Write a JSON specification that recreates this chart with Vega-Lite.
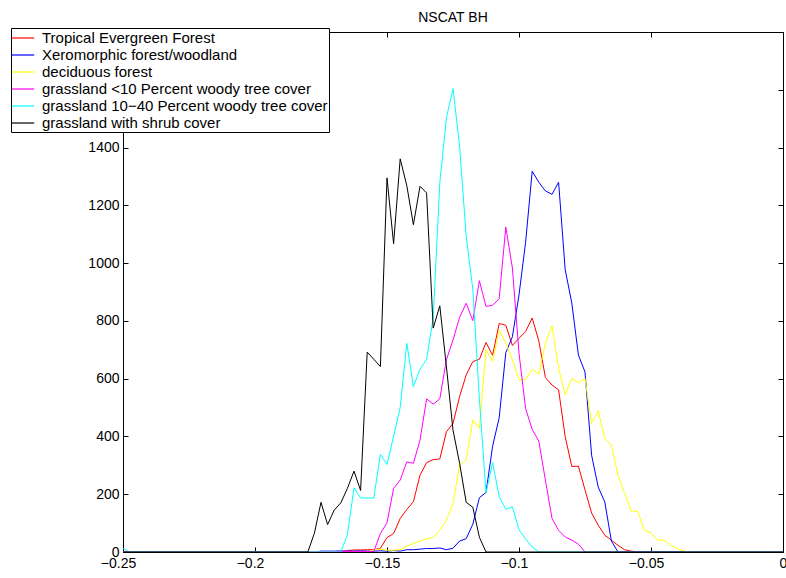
{
  "$schema": "https://vega.github.io/schema/vega-lite/v6.json",
  "width": 660,
  "height": 520,
  "autosize": {"type": "none"},
  "padding": {"left": 123, "top": 32, "right": 3, "bottom": 26},
  "background": "white",
  "title": {"text": "NSCAT BH", "fontSize": 14, "font": "Liberation Sans", "fontWeight": "normal", "color": "black", "offset": 3},
  "config": {
    "view": {"stroke": "black", "strokeWidth": 1},
    "font": "Liberation Sans",
    "axis": {"domain": false, "grid": false, "tickColor": "black", "tickSize": -5, "labelFont": "Liberation Sans", "labelFontSize": 14, "labelColor": "black", "title": null, "labelPadding": 9, "labelFlush": false}
  },
  "data": {"values": [
    {"s": "Tropical Evergreen Forest", "x": -0.25, "y": 0},
    {"s": "Tropical Evergreen Forest", "x": -0.1675, "y": 0},
    {"s": "Tropical Evergreen Forest", "x": -0.165, "y": 5},
    {"s": "Tropical Evergreen Forest", "x": -0.1625, "y": 7},
    {"s": "Tropical Evergreen Forest", "x": -0.16, "y": 7},
    {"s": "Tropical Evergreen Forest", "x": -0.1575, "y": 8},
    {"s": "Tropical Evergreen Forest", "x": -0.155, "y": 8},
    {"s": "Tropical Evergreen Forest", "x": -0.1525, "y": 13},
    {"s": "Tropical Evergreen Forest", "x": -0.15, "y": 50},
    {"s": "Tropical Evergreen Forest", "x": -0.1475, "y": 64},
    {"s": "Tropical Evergreen Forest", "x": -0.145, "y": 116},
    {"s": "Tropical Evergreen Forest", "x": -0.1425, "y": 147},
    {"s": "Tropical Evergreen Forest", "x": -0.14, "y": 174},
    {"s": "Tropical Evergreen Forest", "x": -0.1375, "y": 266},
    {"s": "Tropical Evergreen Forest", "x": -0.135, "y": 309},
    {"s": "Tropical Evergreen Forest", "x": -0.1325, "y": 320},
    {"s": "Tropical Evergreen Forest", "x": -0.13, "y": 322},
    {"s": "Tropical Evergreen Forest", "x": -0.1275, "y": 416},
    {"s": "Tropical Evergreen Forest", "x": -0.125, "y": 445},
    {"s": "Tropical Evergreen Forest", "x": -0.1225, "y": 538},
    {"s": "Tropical Evergreen Forest", "x": -0.12, "y": 613},
    {"s": "Tropical Evergreen Forest", "x": -0.1175, "y": 659},
    {"s": "Tropical Evergreen Forest", "x": -0.115, "y": 667},
    {"s": "Tropical Evergreen Forest", "x": -0.1125, "y": 725},
    {"s": "Tropical Evergreen Forest", "x": -0.11, "y": 681},
    {"s": "Tropical Evergreen Forest", "x": -0.1075, "y": 791},
    {"s": "Tropical Evergreen Forest", "x": -0.105, "y": 785},
    {"s": "Tropical Evergreen Forest", "x": -0.1025, "y": 715},
    {"s": "Tropical Evergreen Forest", "x": -0.1, "y": 740},
    {"s": "Tropical Evergreen Forest", "x": -0.0975, "y": 763},
    {"s": "Tropical Evergreen Forest", "x": -0.095, "y": 810},
    {"s": "Tropical Evergreen Forest", "x": -0.0925, "y": 731},
    {"s": "Tropical Evergreen Forest", "x": -0.09, "y": 604},
    {"s": "Tropical Evergreen Forest", "x": -0.0875, "y": 578},
    {"s": "Tropical Evergreen Forest", "x": -0.085, "y": 561},
    {"s": "Tropical Evergreen Forest", "x": -0.0825, "y": 399},
    {"s": "Tropical Evergreen Forest", "x": -0.08, "y": 296},
    {"s": "Tropical Evergreen Forest", "x": -0.0775, "y": 297},
    {"s": "Tropical Evergreen Forest", "x": -0.075, "y": 215},
    {"s": "Tropical Evergreen Forest", "x": -0.0725, "y": 135},
    {"s": "Tropical Evergreen Forest", "x": -0.07, "y": 93},
    {"s": "Tropical Evergreen Forest", "x": -0.0675, "y": 58},
    {"s": "Tropical Evergreen Forest", "x": -0.065, "y": 41},
    {"s": "Tropical Evergreen Forest", "x": -0.0625, "y": 23},
    {"s": "Tropical Evergreen Forest", "x": -0.06, "y": 8},
    {"s": "Tropical Evergreen Forest", "x": -0.0575, "y": 3},
    {"s": "Tropical Evergreen Forest", "x": -0.055, "y": 0},
    {"s": "Tropical Evergreen Forest", "x": 0, "y": 0},

    {"s": "Xeromorphic forest/woodland", "x": -0.25, "y": 0},
    {"s": "Xeromorphic forest/woodland", "x": -0.1775, "y": 0},
    {"s": "Xeromorphic forest/woodland", "x": -0.175, "y": 3},
    {"s": "Xeromorphic forest/woodland", "x": -0.1725, "y": 3},
    {"s": "Xeromorphic forest/woodland", "x": -0.17, "y": 3},
    {"s": "Xeromorphic forest/woodland", "x": -0.1675, "y": 4},
    {"s": "Xeromorphic forest/woodland", "x": -0.165, "y": 3},
    {"s": "Xeromorphic forest/woodland", "x": -0.1625, "y": 3},
    {"s": "Xeromorphic forest/woodland", "x": -0.16, "y": 4},
    {"s": "Xeromorphic forest/woodland", "x": -0.1575, "y": 3},
    {"s": "Xeromorphic forest/woodland", "x": -0.155, "y": 3},
    {"s": "Xeromorphic forest/woodland", "x": -0.1525, "y": 4},
    {"s": "Xeromorphic forest/woodland", "x": -0.15, "y": 3},
    {"s": "Xeromorphic forest/woodland", "x": -0.1475, "y": 5},
    {"s": "Xeromorphic forest/woodland", "x": -0.145, "y": 3},
    {"s": "Xeromorphic forest/woodland", "x": -0.1425, "y": 8},
    {"s": "Xeromorphic forest/woodland", "x": -0.14, "y": 8},
    {"s": "Xeromorphic forest/woodland", "x": -0.1375, "y": 10},
    {"s": "Xeromorphic forest/woodland", "x": -0.135, "y": 12},
    {"s": "Xeromorphic forest/woodland", "x": -0.1325, "y": 12},
    {"s": "Xeromorphic forest/woodland", "x": -0.13, "y": 14},
    {"s": "Xeromorphic forest/woodland", "x": -0.1275, "y": 8},
    {"s": "Xeromorphic forest/woodland", "x": -0.125, "y": 13},
    {"s": "Xeromorphic forest/woodland", "x": -0.1225, "y": 38},
    {"s": "Xeromorphic forest/woodland", "x": -0.12, "y": 46},
    {"s": "Xeromorphic forest/woodland", "x": -0.1175, "y": 96},
    {"s": "Xeromorphic forest/woodland", "x": -0.115, "y": 188},
    {"s": "Xeromorphic forest/woodland", "x": -0.1125, "y": 206},
    {"s": "Xeromorphic forest/woodland", "x": -0.11, "y": 366},
    {"s": "Xeromorphic forest/woodland", "x": -0.1075, "y": 465},
    {"s": "Xeromorphic forest/woodland", "x": -0.105, "y": 690},
    {"s": "Xeromorphic forest/woodland", "x": -0.1025, "y": 745},
    {"s": "Xeromorphic forest/woodland", "x": -0.1, "y": 890},
    {"s": "Xeromorphic forest/woodland", "x": -0.0975, "y": 1072},
    {"s": "Xeromorphic forest/woodland", "x": -0.095, "y": 1318},
    {"s": "Xeromorphic forest/woodland", "x": -0.0925, "y": 1280},
    {"s": "Xeromorphic forest/woodland", "x": -0.09, "y": 1250},
    {"s": "Xeromorphic forest/woodland", "x": -0.0875, "y": 1238},
    {"s": "Xeromorphic forest/woodland", "x": -0.085, "y": 1280},
    {"s": "Xeromorphic forest/woodland", "x": -0.0825, "y": 977},
    {"s": "Xeromorphic forest/woodland", "x": -0.08, "y": 862},
    {"s": "Xeromorphic forest/woodland", "x": -0.0775, "y": 682},
    {"s": "Xeromorphic forest/woodland", "x": -0.075, "y": 623},
    {"s": "Xeromorphic forest/woodland", "x": -0.0725, "y": 335},
    {"s": "Xeromorphic forest/woodland", "x": -0.07, "y": 225},
    {"s": "Xeromorphic forest/woodland", "x": -0.0675, "y": 173},
    {"s": "Xeromorphic forest/woodland", "x": -0.065, "y": 38},
    {"s": "Xeromorphic forest/woodland", "x": -0.0625, "y": 0},
    {"s": "Xeromorphic forest/woodland", "x": 0, "y": 0},

    {"s": "deciduous forest", "x": -0.25, "y": 0},
    {"s": "deciduous forest", "x": -0.1575, "y": 0},
    {"s": "deciduous forest", "x": -0.155, "y": 8},
    {"s": "deciduous forest", "x": -0.1525, "y": 10},
    {"s": "deciduous forest", "x": -0.15, "y": 6},
    {"s": "deciduous forest", "x": -0.1475, "y": 6},
    {"s": "deciduous forest", "x": -0.145, "y": 8},
    {"s": "deciduous forest", "x": -0.1425, "y": 20},
    {"s": "deciduous forest", "x": -0.14, "y": 29},
    {"s": "deciduous forest", "x": -0.1375, "y": 38},
    {"s": "deciduous forest", "x": -0.135, "y": 46},
    {"s": "deciduous forest", "x": -0.1325, "y": 50},
    {"s": "deciduous forest", "x": -0.13, "y": 75},
    {"s": "deciduous forest", "x": -0.1275, "y": 110},
    {"s": "deciduous forest", "x": -0.125, "y": 168},
    {"s": "deciduous forest", "x": -0.1225, "y": 301},
    {"s": "deciduous forest", "x": -0.12, "y": 318},
    {"s": "deciduous forest", "x": -0.1175, "y": 457},
    {"s": "deciduous forest", "x": -0.115, "y": 428},
    {"s": "deciduous forest", "x": -0.1125, "y": 700},
    {"s": "deciduous forest", "x": -0.11, "y": 659},
    {"s": "deciduous forest", "x": -0.1075, "y": 769},
    {"s": "deciduous forest", "x": -0.105, "y": 723},
    {"s": "deciduous forest", "x": -0.1025, "y": 665},
    {"s": "deciduous forest", "x": -0.1, "y": 596},
    {"s": "deciduous forest", "x": -0.0975, "y": 597},
    {"s": "deciduous forest", "x": -0.095, "y": 633},
    {"s": "deciduous forest", "x": -0.0925, "y": 616},
    {"s": "deciduous forest", "x": -0.09, "y": 723},
    {"s": "deciduous forest", "x": -0.0875, "y": 784},
    {"s": "deciduous forest", "x": -0.085, "y": 636},
    {"s": "deciduous forest", "x": -0.0825, "y": 544},
    {"s": "deciduous forest", "x": -0.08, "y": 601},
    {"s": "deciduous forest", "x": -0.0775, "y": 586},
    {"s": "deciduous forest", "x": -0.075, "y": 601},
    {"s": "deciduous forest", "x": -0.0725, "y": 445},
    {"s": "deciduous forest", "x": -0.07, "y": 489},
    {"s": "deciduous forest", "x": -0.0675, "y": 393},
    {"s": "deciduous forest", "x": -0.065, "y": 370},
    {"s": "deciduous forest", "x": -0.0625, "y": 266},
    {"s": "deciduous forest", "x": -0.06, "y": 203},
    {"s": "deciduous forest", "x": -0.0575, "y": 142},
    {"s": "deciduous forest", "x": -0.055, "y": 141},
    {"s": "deciduous forest", "x": -0.0525, "y": 75},
    {"s": "deciduous forest", "x": -0.05, "y": 67},
    {"s": "deciduous forest", "x": -0.0475, "y": 41},
    {"s": "deciduous forest", "x": -0.045, "y": 41},
    {"s": "deciduous forest", "x": -0.0425, "y": 23},
    {"s": "deciduous forest", "x": -0.04, "y": 12},
    {"s": "deciduous forest", "x": -0.0375, "y": 3},
    {"s": "deciduous forest", "x": -0.035, "y": 0},
    {"s": "deciduous forest", "x": 0, "y": 0},

    {"s": "grassland <10 Percent woody tree cover", "x": -0.25, "y": 0},
    {"s": "grassland <10 Percent woody tree cover", "x": -0.17, "y": 0},
    {"s": "grassland <10 Percent woody tree cover", "x": -0.1675, "y": 2},
    {"s": "grassland <10 Percent woody tree cover", "x": -0.165, "y": 2},
    {"s": "grassland <10 Percent woody tree cover", "x": -0.1625, "y": 2},
    {"s": "grassland <10 Percent woody tree cover", "x": -0.16, "y": 2},
    {"s": "grassland <10 Percent woody tree cover", "x": -0.1575, "y": 2},
    {"s": "grassland <10 Percent woody tree cover", "x": -0.155, "y": 2},
    {"s": "grassland <10 Percent woody tree cover", "x": -0.1525, "y": 64},
    {"s": "grassland <10 Percent woody tree cover", "x": -0.15, "y": 101},
    {"s": "grassland <10 Percent woody tree cover", "x": -0.1475, "y": 220},
    {"s": "grassland <10 Percent woody tree cover", "x": -0.145, "y": 249},
    {"s": "grassland <10 Percent woody tree cover", "x": -0.1425, "y": 312},
    {"s": "grassland <10 Percent woody tree cover", "x": -0.14, "y": 307},
    {"s": "grassland <10 Percent woody tree cover", "x": -0.1375, "y": 387},
    {"s": "grassland <10 Percent woody tree cover", "x": -0.135, "y": 530},
    {"s": "grassland <10 Percent woody tree cover", "x": -0.1325, "y": 512},
    {"s": "grassland <10 Percent woody tree cover", "x": -0.13, "y": 530},
    {"s": "grassland <10 Percent woody tree cover", "x": -0.1275, "y": 665},
    {"s": "grassland <10 Percent woody tree cover", "x": -0.125, "y": 734},
    {"s": "grassland <10 Percent woody tree cover", "x": -0.1225, "y": 812},
    {"s": "grassland <10 Percent woody tree cover", "x": -0.12, "y": 861},
    {"s": "grassland <10 Percent woody tree cover", "x": -0.1175, "y": 801},
    {"s": "grassland <10 Percent woody tree cover", "x": -0.115, "y": 939},
    {"s": "grassland <10 Percent woody tree cover", "x": -0.1125, "y": 850},
    {"s": "grassland <10 Percent woody tree cover", "x": -0.11, "y": 854},
    {"s": "grassland <10 Percent woody tree cover", "x": -0.1075, "y": 877},
    {"s": "grassland <10 Percent woody tree cover", "x": -0.105, "y": 1125},
    {"s": "grassland <10 Percent woody tree cover", "x": -0.1025, "y": 983},
    {"s": "grassland <10 Percent woody tree cover", "x": -0.1, "y": 688},
    {"s": "grassland <10 Percent woody tree cover", "x": -0.0975, "y": 497},
    {"s": "grassland <10 Percent woody tree cover", "x": -0.095, "y": 424},
    {"s": "grassland <10 Percent woody tree cover", "x": -0.0925, "y": 384},
    {"s": "grassland <10 Percent woody tree cover", "x": -0.09, "y": 249},
    {"s": "grassland <10 Percent woody tree cover", "x": -0.0875, "y": 116},
    {"s": "grassland <10 Percent woody tree cover", "x": -0.085, "y": 75},
    {"s": "grassland <10 Percent woody tree cover", "x": -0.0825, "y": 52},
    {"s": "grassland <10 Percent woody tree cover", "x": -0.08, "y": 41},
    {"s": "grassland <10 Percent woody tree cover", "x": -0.0775, "y": 27},
    {"s": "grassland <10 Percent woody tree cover", "x": -0.075, "y": 0},
    {"s": "grassland <10 Percent woody tree cover", "x": 0, "y": 0},

    {"s": "grassland 10−40 Percent woody tree cover", "x": -0.25, "y": 12},
    {"s": "grassland 10−40 Percent woody tree cover", "x": -0.2475, "y": 0},
    {"s": "grassland 10−40 Percent woody tree cover", "x": -0.1675, "y": 0},
    {"s": "grassland 10−40 Percent woody tree cover", "x": -0.165, "y": 60},
    {"s": "grassland 10−40 Percent woody tree cover", "x": -0.1625, "y": 222},
    {"s": "grassland 10−40 Percent woody tree cover", "x": -0.16, "y": 187},
    {"s": "grassland 10−40 Percent woody tree cover", "x": -0.1575, "y": 187},
    {"s": "grassland 10−40 Percent woody tree cover", "x": -0.155, "y": 187},
    {"s": "grassland 10−40 Percent woody tree cover", "x": -0.1525, "y": 338},
    {"s": "grassland 10−40 Percent woody tree cover", "x": -0.15, "y": 303},
    {"s": "grassland 10−40 Percent woody tree cover", "x": -0.1475, "y": 401},
    {"s": "grassland 10−40 Percent woody tree cover", "x": -0.145, "y": 500},
    {"s": "grassland 10−40 Percent woody tree cover", "x": -0.1425, "y": 722},
    {"s": "grassland 10−40 Percent woody tree cover", "x": -0.14, "y": 572},
    {"s": "grassland 10−40 Percent woody tree cover", "x": -0.1375, "y": 633},
    {"s": "grassland 10−40 Percent woody tree cover", "x": -0.135, "y": 667},
    {"s": "grassland 10−40 Percent woody tree cover", "x": -0.1325, "y": 810},
    {"s": "grassland 10−40 Percent woody tree cover", "x": -0.13, "y": 1278},
    {"s": "grassland 10−40 Percent woody tree cover", "x": -0.1275, "y": 1503},
    {"s": "grassland 10−40 Percent woody tree cover", "x": -0.125, "y": 1604},
    {"s": "grassland 10−40 Percent woody tree cover", "x": -0.1225, "y": 1405},
    {"s": "grassland 10−40 Percent woody tree cover", "x": -0.12, "y": 1093},
    {"s": "grassland 10−40 Percent woody tree cover", "x": -0.1175, "y": 910},
    {"s": "grassland 10−40 Percent woody tree cover", "x": -0.115, "y": 530},
    {"s": "grassland 10−40 Percent woody tree cover", "x": -0.1125, "y": 205},
    {"s": "grassland 10−40 Percent woody tree cover", "x": -0.11, "y": 310},
    {"s": "grassland 10−40 Percent woody tree cover", "x": -0.1075, "y": 191},
    {"s": "grassland 10−40 Percent woody tree cover", "x": -0.105, "y": 148},
    {"s": "grassland 10−40 Percent woody tree cover", "x": -0.1025, "y": 156},
    {"s": "grassland 10−40 Percent woody tree cover", "x": -0.1, "y": 77},
    {"s": "grassland 10−40 Percent woody tree cover", "x": -0.0975, "y": 45},
    {"s": "grassland 10−40 Percent woody tree cover", "x": -0.095, "y": 17},
    {"s": "grassland 10−40 Percent woody tree cover", "x": -0.0925, "y": 0},
    {"s": "grassland 10−40 Percent woody tree cover", "x": 0, "y": 0},

    {"s": "grassland with shrub cover", "x": -0.25, "y": 0},
    {"s": "grassland with shrub cover", "x": -0.18, "y": 0},
    {"s": "grassland with shrub cover", "x": -0.1775, "y": 65},
    {"s": "grassland with shrub cover", "x": -0.175, "y": 172},
    {"s": "grassland with shrub cover", "x": -0.1725, "y": 95},
    {"s": "grassland with shrub cover", "x": -0.17, "y": 145},
    {"s": "grassland with shrub cover", "x": -0.1675, "y": 170},
    {"s": "grassland with shrub cover", "x": -0.165, "y": 220},
    {"s": "grassland with shrub cover", "x": -0.1625, "y": 280},
    {"s": "grassland with shrub cover", "x": -0.16, "y": 213},
    {"s": "grassland with shrub cover", "x": -0.1575, "y": 692},
    {"s": "grassland with shrub cover", "x": -0.155, "y": 667},
    {"s": "grassland with shrub cover", "x": -0.1525, "y": 642},
    {"s": "grassland with shrub cover", "x": -0.15, "y": 1295},
    {"s": "grassland with shrub cover", "x": -0.1475, "y": 1067},
    {"s": "grassland with shrub cover", "x": -0.145, "y": 1361},
    {"s": "grassland with shrub cover", "x": -0.1425, "y": 1268},
    {"s": "grassland with shrub cover", "x": -0.14, "y": 1133},
    {"s": "grassland with shrub cover", "x": -0.1375, "y": 1266},
    {"s": "grassland with shrub cover", "x": -0.135, "y": 1243},
    {"s": "grassland with shrub cover", "x": -0.1325, "y": 775},
    {"s": "grassland with shrub cover", "x": -0.13, "y": 852},
    {"s": "grassland with shrub cover", "x": -0.1275, "y": 642},
    {"s": "grassland with shrub cover", "x": -0.125, "y": 422},
    {"s": "grassland with shrub cover", "x": -0.1225, "y": 307},
    {"s": "grassland with shrub cover", "x": -0.12, "y": 172},
    {"s": "grassland with shrub cover", "x": -0.1175, "y": 155},
    {"s": "grassland with shrub cover", "x": -0.115, "y": 51},
    {"s": "grassland with shrub cover", "x": -0.1125, "y": 0},
    {"s": "grassland with shrub cover", "x": 0, "y": 0}
  ]},
  "layer": [
    {
      "mark": {"type": "line", "strokeWidth": 1, "clip": true},
      "encoding": {
        "x": {"field": "x", "type": "quantitative", "scale": {"domain": [-0.25, 0], "nice": false, "zero": false},
              "axis": {"orient": "bottom", "values": [-0.25, -0.2, -0.15, -0.1, -0.05, 0], "format": "~g",
                       "labelOffset": {"condition": {"test": "datum.value < 0", "value": -5}, "value": 0}}},
        "y": {"field": "y", "type": "quantitative", "scale": {"domain": [0, 1800], "nice": false},
              "axis": {"orient": "left", "values": [0, 200, 400, 600, 800, 1000, 1200, 1400, 1600, 1800], "format": "d", "labelExpr": "datum.value > 1400 ? '' : datum.label"}},
        "color": {"field": "s", "type": "nominal",
          "scale": {"domain": ["Tropical Evergreen Forest", "Xeromorphic forest/woodland", "deciduous forest", "grassland <10 Percent woody tree cover", "grassland 10−40 Percent woody tree cover", "grassland with shrub cover"],
                    "range": ["#ff0000", "#0000ff", "#ffff00", "#ff00ff", "#00ffff", "#000000"]},
          "legend": {"title": null, "orient": "none", "legendX": -112, "legendY": -4, "fillColor": "white", "strokeColor": "black", "padding": 1, "symbolType": "M-1.4,0H1.4", "symbolSize": 256, "symbolOffset": 2, "symbolStrokeWidth": 1.2, "labelFontSize": 15, "labelFont": "Liberation Sans", "labelColor": "black", "labelOffset": 10, "labelLimit": 600, "rowPadding": 0, "cornerRadius": 0}}
      }
    },
    {
      "mark": {"type": "line", "strokeOpacity": 0},
      "encoding": {
        "x": {"field": "x", "type": "quantitative", "axis": {"orient": "top", "values": [-0.25, -0.2, -0.15, -0.1, -0.05, 0], "labels": false}},
        "y": {"field": "y", "type": "quantitative", "axis": {"orient": "right", "values": [0, 200, 400, 600, 800, 1000, 1200, 1400, 1600, 1800], "labels": false}}
      }
    }
  ]
}
